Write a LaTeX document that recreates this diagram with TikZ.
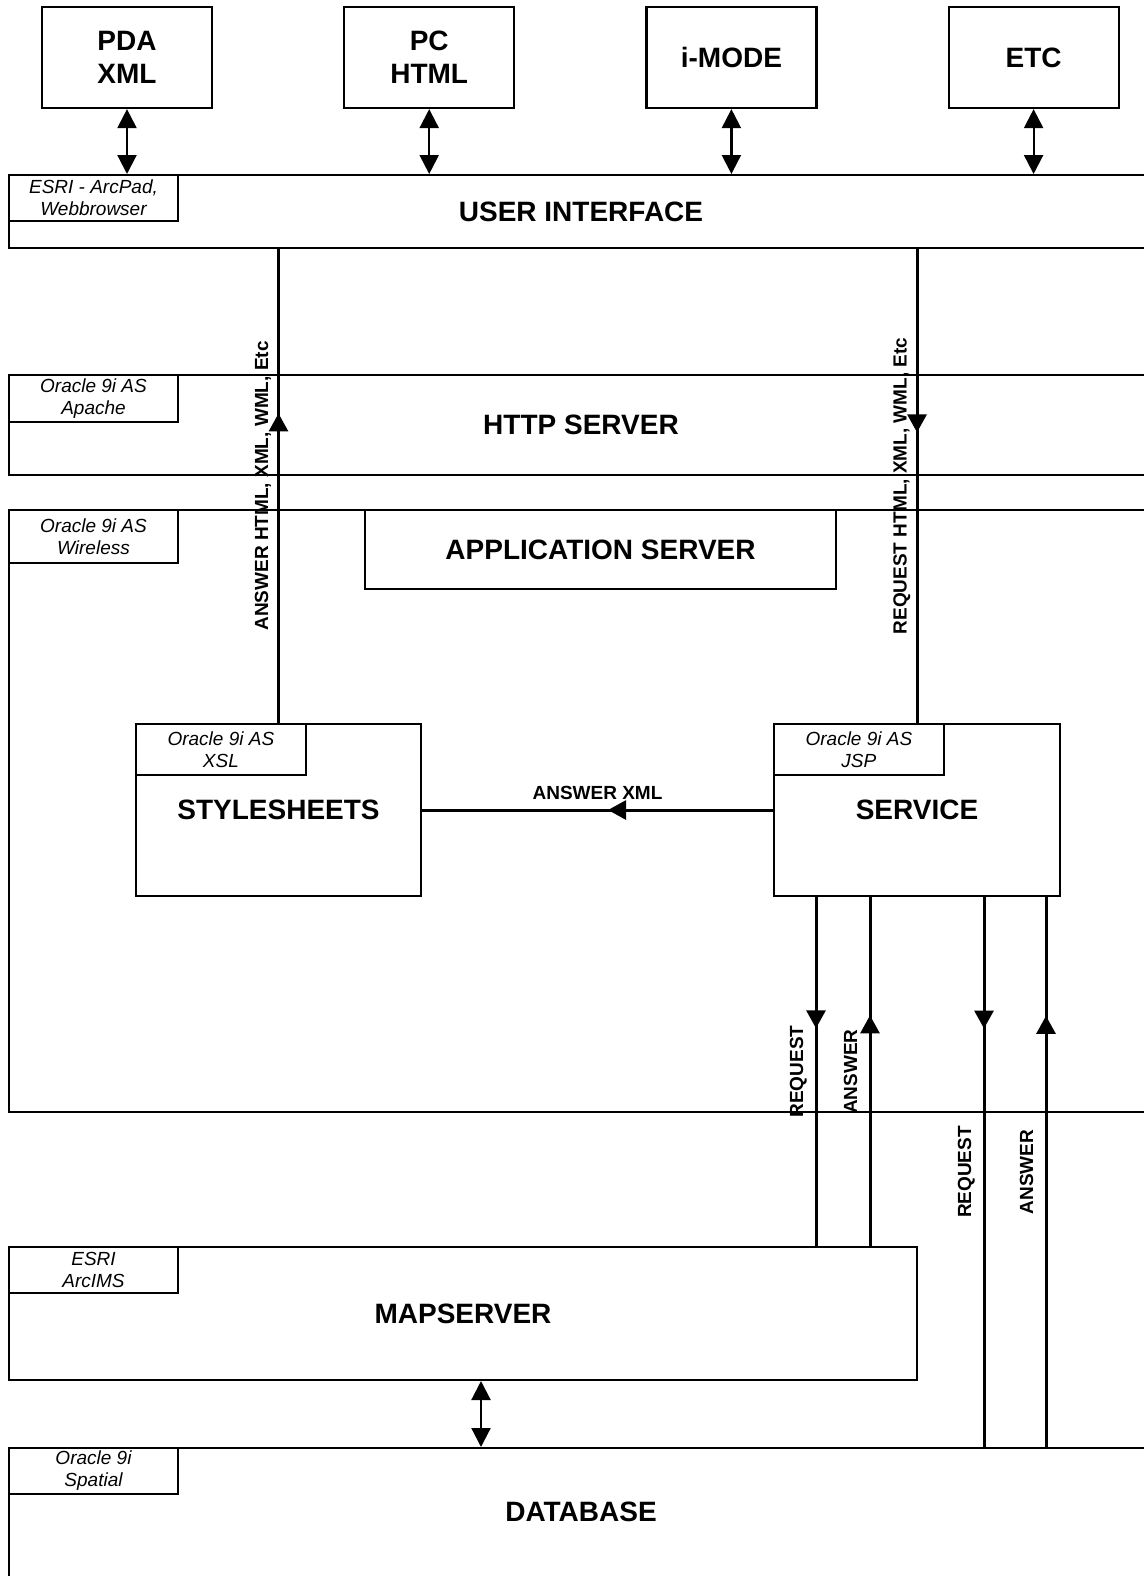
\documentclass[tikz,border=0pt]{standalone}
\usepackage{fontspec}
\setmainfont{Liberation Sans}
\usetikzlibrary{arrows.meta, positioning, calc, decorations.markings}
\tikzset{
    box/.style={rectangle, draw=black, line width=1.1pt, fill=white, align=center, inner sep=0pt},
    headtext/.style={font=\bfseries\fontsize{14}{16.5}\selectfont},
    client/.style={box, headtext, minimum width=85pt, minimum height=50.5pt},
    tier/.style={rectangle, draw=black, line width=1pt, inner sep=0pt, headtext},
    tagbox/.style={box, line width=1pt, minimum width=84.5pt, minimum height=23pt, anchor=north west, font=\itshape\fontsize{9.5}{11}\selectfont},
    flowlabel/.style={font=\bfseries\fontsize{9.5}{11}\selectfont, inner sep=4.5pt, text depth=0pt},
    twoway/.style={{Triangle[length=9.5pt,width=9.5pt]}-{Triangle[length=9.5pt,width=9.5pt]}, line width=1.1pt},
    flow/.style={line width=1.5pt, postaction={decorate}, decoration={markings, mark=at position #1 with {\arrow{Triangle[length=9pt,width=9.5pt]}}}}
}
\begin{document}
\begin{tikzpicture}[x=0.5pt, y=-0.5pt]
    \useasboundingbox (0,0) rectangle (1144,1576);
    \clip (0,0) rectangle (1144,1576);

    \node[client] (pda) at (127,57.5) {PDA\\XML};
    \node[client, right=65pt of pda] (pc) {PC\\HTML};
    \node[client, right=65pt of pc] (imode) {i-MODE};
    \node[client, right=65pt of imode] (etc) {ETC};

    \node[tier, minimum width=572pt, minimum height=36.5pt] (ui) at (581,211.5) {USER INTERFACE};
    \node[tier, minimum width=572pt, minimum height=50pt] (http) at (581,425) {HTTP SERVER};
    \node[tier, minimum width=572pt, minimum height=301pt] (app) at (581,811) {};
    \node[box, headtext, minimum width=235.5pt, minimum height=39.5pt] (appsrv) at (600.5,549.5) {APPLICATION SERVER};
    \node[box, headtext, minimum width=142.5pt, minimum height=86pt] (sheets) at (278.5,810) {STYLESHEETS};
    \node[box, headtext, minimum width=143pt, minimum height=86pt] (service) at (917,810) {SERVICE};
    \node[tier, minimum width=454pt, minimum height=66.5pt] (map) at (463,1313.5) {MAPSERVER};
    \node[tier, minimum width=572pt, minimum height=126pt] (db) at (581,1574) {};
    \node[headtext] (dbtitle) at (581,1512) {DATABASE};

    \node[tagbox] (uitag) at (ui.north west) {ESRI - ArcPad,\\Webbrowser};
    \node[tagbox, minimum height=23.5pt] (httptag) at (http.north west) {Oracle 9i AS\\Apache};
    \node[tagbox, minimum height=26.5pt] (apptag) at (app.north west) {Oracle 9i AS\\Wireless};
    \node[tagbox, minimum width=85pt, minimum height=25.5pt] (sheetstag) at (sheets.north west) {Oracle 9i AS\\XSL};
    \node[tagbox, minimum width=85pt, minimum height=25.5pt] (servicetag) at (service.north west) {Oracle 9i AS\\JSP};
    \node[tagbox] (maptag) at (map.north west) {ESRI\\ArcIMS};
    \node[tagbox] (dbtag) at (db.north west) {Oracle 9i\\Spatial};

    \foreach \c in {pda,pc,imode,etc}
        \draw[twoway] (\c.south) -- (\c.south |- ui.north);

    \draw[flow=0.653] (sheets.north) -- node[midway, flowlabel, anchor=south, rotate=90] {ANSWER HTML, XML, WML, Etc} (sheets.north |- ui.south);
    \draw[flow=0.387] (ui.south -| service.north) -- node[midway, flowlabel, anchor=south, rotate=90] {REQUEST HTML, XML, WML, Etc} (service.north);
    \draw[flow=0.47] (service.west) -- node[midway, flowlabel, above] {ANSWER XML} (sheets.east);

    \coordinate (req1) at ([xshift=-50.5pt]service.south);
    \coordinate (ans1) at ([xshift=-23.5pt]service.south);
    \coordinate (req2) at ([xshift=33.5pt]service.south);
    \coordinate (ans2) at ([xshift=64.5pt]service.south);
    \draw[flow=0.376] (req1) -- node[midway, flowlabel, inner sep=5.75pt, anchor=south, rotate=90] {REQUEST} (req1 |- map.north);
    \draw[flow=0.661] (ans1 |- map.north) -- node[midway, flowlabel, inner sep=5.75pt, anchor=south, rotate=90] {ANSWER} (ans1);
    \draw[flow=0.239] (req2) -- node[midway, flowlabel, inner sep=5.75pt, anchor=south, rotate=90] {REQUEST} (req2 |- db.north);
    \draw[flow=0.784] (ans2 |- db.north) -- node[midway, flowlabel, inner sep=5.75pt, anchor=south, rotate=90] {ANSWER} (ans2);

    \coordinate (mapdb) at ([xshift=9pt]map.south);
    \draw[twoway] (mapdb) -- (mapdb |- db.north);
\end{tikzpicture}
\end{document}
